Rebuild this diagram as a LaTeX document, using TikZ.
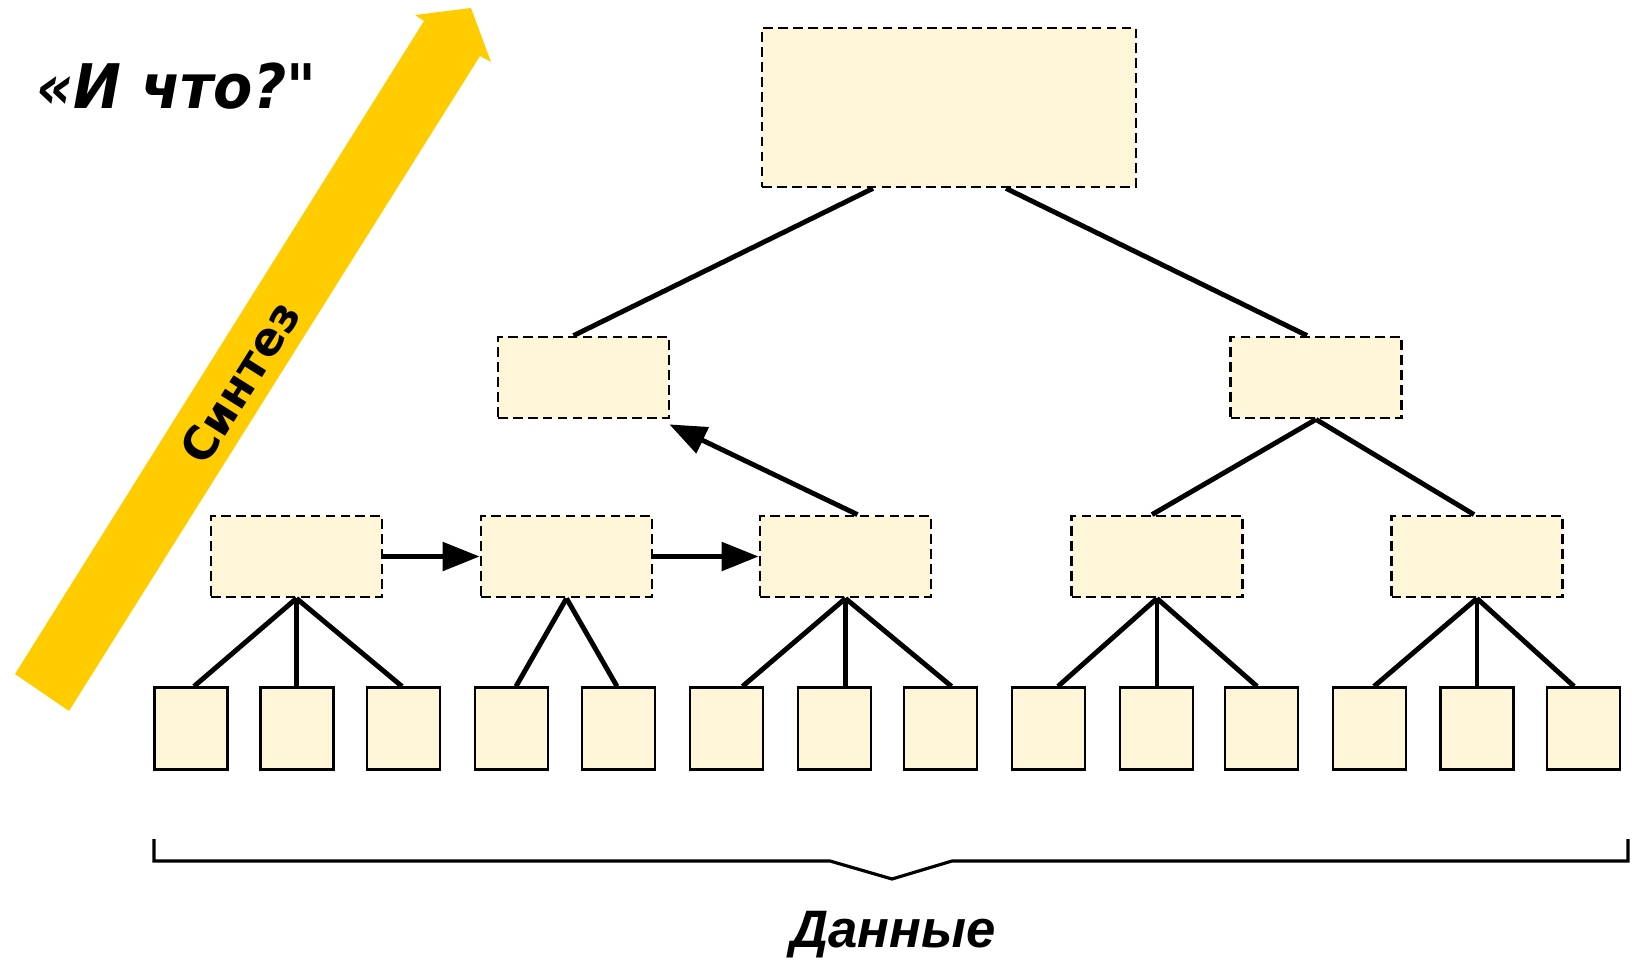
\documentclass[tikz,border=0pt]{standalone}
\usepackage{fontspec}
\setmainfont{DejaVu Sans}
\newfontfamily\libsans{Liberation Sans}
\font\rawquote="DejaVu Sans/BI" at 35pt
\usetikzlibrary{arrows.meta,calc}
\definecolor{cream}{HTML}{FFF5D8}
\definecolor{gold}{HTML}{FFCC00}
\begin{document}
\begin{tikzpicture}[x=0.02cm,y=-0.02cm,
  dbox/.style={draw, dash pattern=on 5.5pt off 3pt, line width=1.6pt, fill=cream, inner sep=0pt, minimum width=34.2mm, minimum height=16.2mm},
  sbox/.style={draw, line width=1.3pt, fill=cream, inner sep=0pt, minimum width=14.6mm, minimum height=16.4mm},
  conn/.style={line width=2.8pt},
  arr/.style={conn, -{Triangle[length=21pt,width=16pt]}},
  brace/.style={line width=1.8pt},
]
\useasboundingbox (0,0) rectangle (1639,960);

% Synthesis arrow
\fill[gold] (15,674) -- (424,21) -- (415,15) -- (471,8) -- (491,62) -- (480,56) -- (69,711) -- cycle;
\node[rotate=57.9, font=\bfseries\fontsize{26}{30}\selectfont] (synt) at (240,382) {Синтез};

% Title
\node[anchor=base west, inner sep=0pt, xscale=0.93, font=\bfseries\itshape\fontsize{35}{42}\selectfont] (title) at (36,108) {«И что?{\rawquote\char"22}};

% Boxes
\node[dbox, minimum width=74.8mm, minimum height=31.8mm] (top) at (949,107.5) {};
\node[dbox] (l2l) at (583.5,377.5) {};
\node[dbox] (l2r) at (1316,377.5) {};

\node[dbox] (l3a) at (296.5,556.5) {};
\node[dbox] (l3b) at (566.5,556.5) {};
\node[dbox] (l3c) at (845.5,556.5) {};
\node[dbox] (l3d) at (1157,556.5) {};
\node[dbox] (l3e) at (1477,556.5) {};

\foreach \i/\x in {1/191,2/297,3/403.5,4/511.5,5/618.5,6/726.5,7/834.5,8/940.5,9/1048.5,10/1156.5,11/1261.5,12/1369.5,13/1477,14/1583.5}
  \node[sbox] (b\i) at (\x,728.5) {};

% Tree connectors
\draw[conn] ($(top.south)+(-76,0)$) -- ($(l2l.north)+(-10,0)$);
\draw[conn] ($(top.south)+(57,0)$) -- ($(l2r.north)+(-9,0)$);
\draw[conn] (l2r.south) -- ($(l3d.north)+(-5,0)$);
\draw[conn] (l2r.south) -- ($(l3e.north)+(-3,0)$);

\draw[arr] (l3a.east) -- (l3b.west);
\draw[arr] (l3b.east) -- (l3c.west);
\draw[arr] ($(l3c.north)+(12,0)$) -- ($(l2l.south east)+(-1,5)$);

\draw[conn] (l3a.south) -- ($(b1.north)+(3,0)$);
\draw[conn] (l3a.south) -- (l3a.south |- b2.north);
\draw[conn] (l3a.south) -- ($(b3.north)+(-1.5,0)$);

\draw[conn] (l3b.south) -- ($(b4.north)+(4.5,0)$);
\draw[conn] (l3b.south) -- ($(b5.north)+(-1.5,0)$);

\draw[conn] (l3c.south) -- ($(b6.north)+(16,0)$);
\draw[conn] (l3c.south) -- (l3c.south |- b7.north);
\draw[conn] (l3c.south) -- ($(b8.north)+(11,0)$);

\draw[conn] (l3d.south) -- ($(b9.north)+(9.5,0)$);
\draw[conn] (l3d.south) -- (l3d.south |- b10.north);
\draw[conn] (l3d.south) -- ($(b11.north)+(-4.5,0)$);

\draw[conn] (l3e.south) -- ($(b12.north)+(4.5,0)$);
\draw[conn] (l3e.south) -- (l3e.south |- b13.north);
\draw[conn] (l3e.south) -- ($(b14.north)+(-9.5,0)$);

% Brace
\draw[brace] (154,839) -- (154,861) -- (830,861) -- (892,879) -- (952,861) -- (1628,861) -- (1628,839);
\node[anchor=base, inner sep=0pt, font=\libsans\bfseries\itshape\fontsize{30}{36}\selectfont] (data) at (893,947) {Данные};
\end{tikzpicture}
\end{document}
